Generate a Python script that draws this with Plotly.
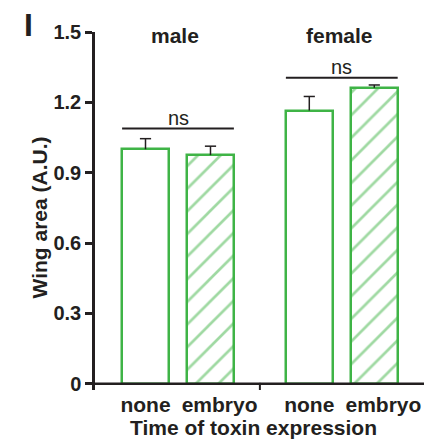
import plotly.graph_objects as go

# Data
categories = ["none", "embryo", "none", "embryo"]
groups = ["male", "female"]
positions = [0.0, 1.0, 2.52, 3.52]
wing_area = [1.00, 0.975, 1.165, 1.262]
sem = [0.045, 0.038, 0.060, 0.012]
hatched = [False, True, False, True]
ns_level = [1.088, 1.305]
y_ticks = [0, 0.3, 0.6, 0.9, 1.2, 1.5]
y_ticklabels = ["0", "0.3", "0.6", "0.9", "1.2", "1.5"]

GREEN = "#3fb446"
INK = "#231f20"
FONT = "Liberation Sans, Arial, sans-serif"
BAR_W = 0.72
LABEL_SHIFT = 0.14  # hatched-bar labels sit a little right of the bar centre

fig = go.Figure()

# Bars: open (none) and hatched (embryo)
fig.add_trace(go.Bar(
    x=positions, y=wing_area, width=BAR_W,
    marker=dict(
        color="white",
        line=dict(color=GREEN, width=2.5),
        pattern=dict(shape=["/" if h else "" for h in hatched],
                     fgcolor=GREEN, bgcolor="white", size=16, solidity=0.17),
    ),
    showlegend=False, hoverinfo="skip",
))

# Upper error bars (stem + cap)
ex, ey = [], []
for xp, v, e in zip(positions, wing_area, sem):
    ex += [xp, xp, None]
    ey += [v, v + e, None]
fig.add_trace(go.Scatter(x=ex, y=ey, mode="lines",
                         line=dict(color=INK, width=1.5),
                         showlegend=False, hoverinfo="skip"))
fig.add_trace(go.Scatter(x=positions, y=[v + e for v, e in zip(wing_area, sem)],
                         mode="markers",
                         marker=dict(symbol="line-ew", size=8,
                                     line=dict(color=INK, width=1.5)),
                         showlegend=False, hoverinfo="skip"))

shapes = []
annotations = []

# Significance brackets and group titles
for g, lvl in enumerate(ns_level):
    x_left = positions[2 * g] - BAR_W / 2
    x_right = positions[2 * g + 1] + BAR_W / 2
    shapes.append(dict(type="line", xref="x", yref="y", x0=x_left, x1=x_right,
                       y0=lvl, y1=lvl, line=dict(color=INK, width=2)))
    annotations.append(dict(x=(x_left + x_right) / 2, y=lvl + 0.045, xref="x", yref="y",
                            text="ns", showarrow=False, yanchor="middle",
                            font=dict(family=FONT, size=20, color=INK)))
    annotations.append(dict(x=(positions[2 * g] + positions[2 * g + 1]) / 2 - 0.04,
                            y=1.483, xref="x", yref="y",
                            text="<b>%s</b>" % groups[g],
                            showarrow=False, yanchor="middle",
                            font=dict(family=FONT, size=21, color=INK)))

# x axis baseline at zero, extended slightly past the y axis
shapes.append(dict(type="line", xref="paper", yref="y", x0=-0.021, x1=1.0,
                   y0=0, y1=0, line=dict(color=INK, width=2.5)))
# tick between the two groups
mid = (positions[1] + positions[2]) / 2
shapes.append(dict(type="line", xref="x", yref="paper", x0=mid, x1=mid,
                   y0=0.0, y1=0.02, line=dict(color=INK, width=2)))

# axis titles
annotations.append(dict(x=-0.169, y=0.483, xref="paper", yref="paper",
                        text="<b>Wing area (A.U.)</b>", textangle=-90,
                        showarrow=False, xanchor="center", yanchor="middle",
                        font=dict(family=FONT, size=21, color=INK)))
annotations.append(dict(x=0.481, y=-0.1053, xref="paper", yref="paper",
                        text="<b>Time of toxin expression</b>",
                        showarrow=False, xanchor="center", yanchor="middle",
                        font=dict(family=FONT, size=21, color=INK)))

# panel letter
annotations.append(dict(x=-0.2204, y=1.02, xref="paper", yref="paper",
                        text="<b>I</b>", showarrow=False, yanchor="middle",
                        font=dict(family=FONT, size=32, color=INK)))

label_pos = [p + (LABEL_SHIFT if h else 0) for p, h in zip(positions, hatched)]

fig.update_layout(
    width=430, height=443,
    margin=dict(l=95, r=6, t=32, b=53, autoexpand=False),
    paper_bgcolor="white", plot_bgcolor="white",
    font=dict(family=FONT, color=INK),
    shapes=shapes, annotations=annotations,
    bargap=0,
    xaxis=dict(
        range=[-0.777, 4.285], showgrid=False, zeroline=False, showline=False,
        tickvals=label_pos, ticktext=["<b>%s</b>" % c for c in categories],
        ticks="", tickangle=0, automargin=False,
        tickfont=dict(family=FONT, size=21, color=INK),
    ),
    yaxis=dict(
        range=[-0.027, 1.5], showgrid=False, zeroline=False, automargin=False,
        showline=True, linecolor=INK, linewidth=2.5,
        ticks="outside", ticklen=7, tickwidth=2.5, tickcolor=INK,
        tickvals=y_ticks, ticktext=["<b>%s</b>" % t for t in y_ticklabels],
        tickfont=dict(family=FONT, size=20, color=INK),
    ),
)

fig.write_html("out.html")
